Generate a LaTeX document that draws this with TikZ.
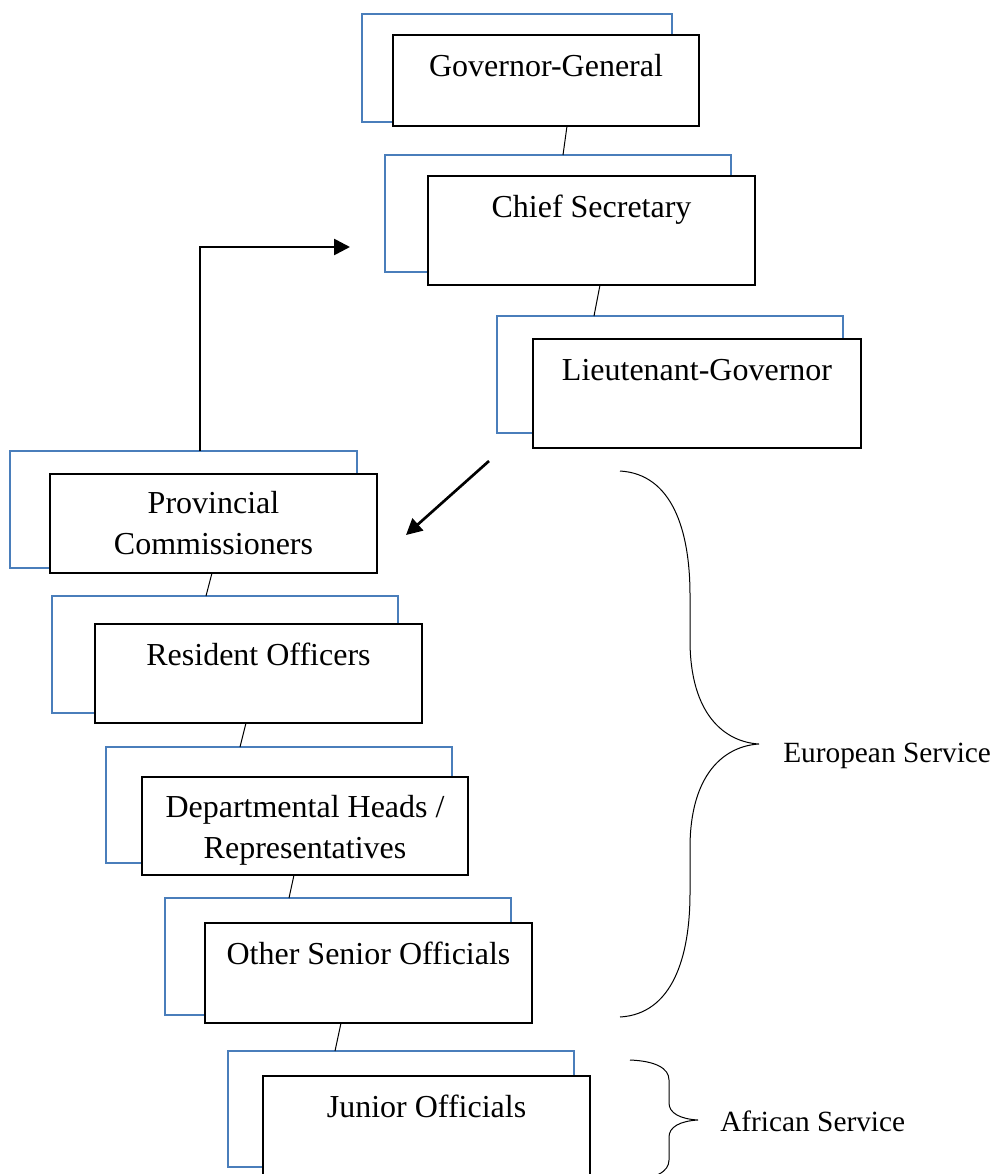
\documentclass[tikz,border=0pt]{standalone}
\usepackage{fontspec}
\setmainfont{Liberation Serif}
\usetikzlibrary{calc,arrows.meta}
\definecolor{boxblue}{HTML}{4A7EBB}
\begin{document}
\begin{tikzpicture}[x=0.75pt,y=-0.75pt,
  sz/.style 2 args={minimum width=#1*0.75pt, minimum height=#2*0.75pt},
  backbox/.style={draw=boxblue, line width=1.5pt, fill=white, inner sep=0pt, outer sep=0pt},
  frontbox/.style={draw=black, line width=1.5pt, fill=white, inner sep=0pt, outer sep=0pt},
  lbl/.style={anchor=base, inner sep=0pt, font=\fontsize{24}{30.75}\selectfont},
  side/.style={anchor=base west, inner sep=0pt, font=\fontsize{22}{26}\selectfont},
  link/.style={line width=0.75pt},
  bigarrow/.style={line width=2pt, -{Triangle[length=12pt,width=12pt]}},
  bracepath/.style={line width=0.75pt}
]
\useasboundingbox (0,0) rectangle (995,1174);
\clip (0,0) rectangle (995,1174);

% Governor-General
\node[backbox, sz={310}{108}] (ggb) at (517,68) {};
\node[frontbox, sz={306}{91}] (ggf) at (546,80.5) {};
\node[lbl] (ggt) at ($(ggf.north)+(0,41)$) {Governor-General};

% Chief Secretary
\node[backbox, sz={346}{117}] (csb) at (558,213.5) {};
\node[frontbox, sz={327}{109}] (csf) at (591.5,230.5) {};
\node[lbl] (cst) at ($(csf.north)+(0,41)$) {Chief Secretary};

% Lieutenant-Governor
\node[backbox, sz={346}{117}] (lgb) at (670,374.5) {};
\node[frontbox, sz={328}{109}] (lgf) at (697,393.5) {};
\node[lbl] (lgt) at ($(lgf.north)+(0,41)$) {Lieutenant-Governor};

% Provincial Commissioners
\node[backbox, sz={347}{117}] (pcb) at (183.5,509.5) {};
\node[frontbox, sz={327}{99}] (pcf) at (213.5,523.5) {};
\node[lbl] (pct) at ($(pcf.north)+(0,39)$) {\begin{tabular}[t]{@{}c@{}}Provincial\\Commissioners\end{tabular}};

% Resident Officers
\node[backbox, sz={346}{117}] (rob) at (225,654.5) {};
\node[frontbox, sz={327}{99}] (rof) at (258.5,673.5) {};
\node[lbl] (rot) at ($(rof.north)+(0,41)$) {Resident Officers};

% Departmental Heads / Representatives
\node[backbox, sz={346}{116}] (dhb) at (279,805) {};
\node[frontbox, sz={326}{98}] (dhf) at (305,826) {};
\node[lbl] (dht) at ($(dhf.north)+(0,40)$) {\begin{tabular}[t]{@{}c@{}}Departmental Heads /\\Representatives\end{tabular}};

% Other Senior Officials
\node[backbox, sz={346}{117}] (osb) at (338,956.5) {};
\node[frontbox, sz={327}{100}] (osf) at (368.5,973) {};
\node[lbl] (ost) at ($(osf.north)+(0,41)$) {Other Senior Officials};

% Junior Officials
\node[backbox, sz={346}{116}] (job) at (401,1109) {};
\node[frontbox, sz={327}{114}] (jof) at (426.5,1133) {};
\node[lbl] (jot) at ($(jof.north)+(0,41)$) {Junior Officials};

% thin connectors
\draw[link] ($(ggf.south)+(21,0)$) -- ($(csb.north)+(5,0)$);
\draw[link] ($(csf.south)+(8.5,0)$) -- ($(lgb.north)+(-76,0)$);
\draw[link] ($(pcf.south)+(-1.5,0)$) -- ($(rob.north)+(-19,0)$);
\draw[link] ($(rof.south)+(-12.5,0)$) -- ($(dhb.north)+(-39,0)$);
\draw[link] ($(dhf.south)+(-11,0)$) -- ($(osb.north)+(-49,0)$);
\draw[link] ($(osf.south)+(-27.5,0)$) -- ($(job.north)+(-66,0)$);

% bold arrows
\coordinate (uptip) at (350,247);
\draw[bigarrow] ($(pcb.north)+(16.5,0)$) |- (uptip);
\coordinate (dstart) at (489,461);
\coordinate (dtip) at (406,535);
\draw[bigarrow] (dstart) -- (dtip);

% European Service brace
\draw[bracepath] (620,471) .. controls (672,474) and (690,530) .. (690,595)
  -- (690,640) .. controls (690,715) and (725,742) .. (759,744)
  .. controls (725,746) and (690,773) .. (690,848)
  -- (690,893) .. controls (690,958) and (672,1014) .. (620,1017);
\node[side] (eur) at (783,762) {European Service};

% African Service brace
\draw[bracepath] (630,1060) .. controls (655,1061) and (669,1068) .. (669,1080)
  -- (669,1103) .. controls (669,1113) and (680,1119) .. (698,1120)
  .. controls (680,1121) and (669,1127) .. (669,1137)
  -- (669,1160) .. controls (669,1172) and (655,1179) .. (630,1180);
\node[side] (afr) at (720,1131) {African Service};
\end{tikzpicture}
\end{document}
